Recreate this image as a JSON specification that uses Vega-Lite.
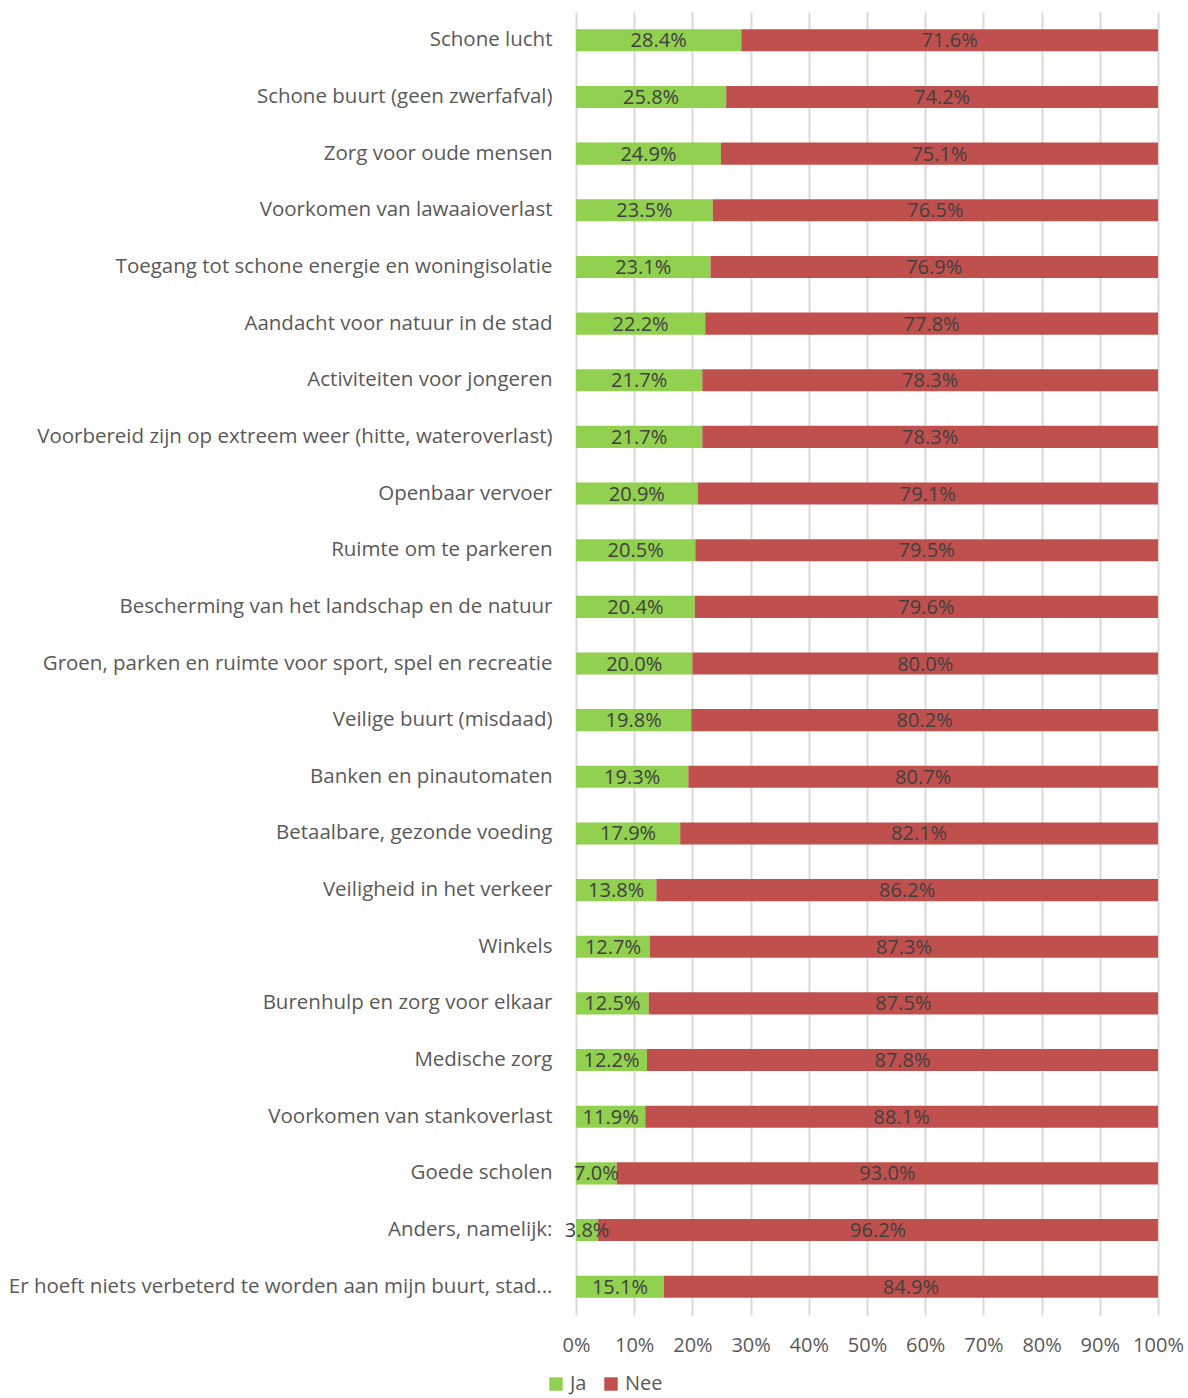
{
  "$schema": "https://vega.github.io/schema/vega-lite/v6.json",
  "width": 582,
  "height": 1303,
  "autosize": "none",
  "padding": {"left": 576, "top": 12, "right": 30, "bottom": 83},
  "background": "white",
  "config": {"view": {"stroke": null}, "font": "Open Sans"},
  "data": {
    "values": [
      {"item": "Schone lucht", "serie": "Ja", "waarde": 0.284},
      {"item": "Schone lucht", "serie": "Nee", "waarde": 0.716},
      {"item": "Schone buurt (geen zwerfafval)", "serie": "Ja", "waarde": 0.258},
      {"item": "Schone buurt (geen zwerfafval)", "serie": "Nee", "waarde": 0.742},
      {"item": "Zorg voor oude mensen", "serie": "Ja", "waarde": 0.249},
      {"item": "Zorg voor oude mensen", "serie": "Nee", "waarde": 0.751},
      {"item": "Voorkomen van lawaaioverlast", "serie": "Ja", "waarde": 0.235},
      {"item": "Voorkomen van lawaaioverlast", "serie": "Nee", "waarde": 0.765},
      {"item": "Toegang tot schone energie en woningisolatie", "serie": "Ja", "waarde": 0.231},
      {"item": "Toegang tot schone energie en woningisolatie", "serie": "Nee", "waarde": 0.769},
      {"item": "Aandacht voor natuur in de stad", "serie": "Ja", "waarde": 0.222},
      {"item": "Aandacht voor natuur in de stad", "serie": "Nee", "waarde": 0.778},
      {"item": "Activiteiten voor jongeren", "serie": "Ja", "waarde": 0.217},
      {"item": "Activiteiten voor jongeren", "serie": "Nee", "waarde": 0.783},
      {"item": "Voorbereid zijn op extreem weer (hitte, wateroverlast)", "serie": "Ja", "waarde": 0.217},
      {"item": "Voorbereid zijn op extreem weer (hitte, wateroverlast)", "serie": "Nee", "waarde": 0.783},
      {"item": "Openbaar vervoer", "serie": "Ja", "waarde": 0.209},
      {"item": "Openbaar vervoer", "serie": "Nee", "waarde": 0.791},
      {"item": "Ruimte om te parkeren", "serie": "Ja", "waarde": 0.205},
      {"item": "Ruimte om te parkeren", "serie": "Nee", "waarde": 0.795},
      {"item": "Bescherming van het landschap en de natuur", "serie": "Ja", "waarde": 0.204},
      {"item": "Bescherming van het landschap en de natuur", "serie": "Nee", "waarde": 0.796},
      {"item": "Groen, parken en ruimte voor sport, spel en recreatie", "serie": "Ja", "waarde": 0.200},
      {"item": "Groen, parken en ruimte voor sport, spel en recreatie", "serie": "Nee", "waarde": 0.800},
      {"item": "Veilige buurt (misdaad)", "serie": "Ja", "waarde": 0.198},
      {"item": "Veilige buurt (misdaad)", "serie": "Nee", "waarde": 0.802},
      {"item": "Banken en pinautomaten", "serie": "Ja", "waarde": 0.193},
      {"item": "Banken en pinautomaten", "serie": "Nee", "waarde": 0.807},
      {"item": "Betaalbare, gezonde voeding", "serie": "Ja", "waarde": 0.179},
      {"item": "Betaalbare, gezonde voeding", "serie": "Nee", "waarde": 0.821},
      {"item": "Veiligheid in het verkeer", "serie": "Ja", "waarde": 0.138},
      {"item": "Veiligheid in het verkeer", "serie": "Nee", "waarde": 0.862},
      {"item": "Winkels", "serie": "Ja", "waarde": 0.127},
      {"item": "Winkels", "serie": "Nee", "waarde": 0.873},
      {"item": "Burenhulp en zorg voor elkaar", "serie": "Ja", "waarde": 0.125},
      {"item": "Burenhulp en zorg voor elkaar", "serie": "Nee", "waarde": 0.875},
      {"item": "Medische zorg", "serie": "Ja", "waarde": 0.122},
      {"item": "Medische zorg", "serie": "Nee", "waarde": 0.878},
      {"item": "Voorkomen van stankoverlast", "serie": "Ja", "waarde": 0.119},
      {"item": "Voorkomen van stankoverlast", "serie": "Nee", "waarde": 0.881},
      {"item": "Goede scholen", "serie": "Ja", "waarde": 0.070},
      {"item": "Goede scholen", "serie": "Nee", "waarde": 0.930},
      {"item": "Anders, namelijk:", "serie": "Ja", "waarde": 0.038},
      {"item": "Anders, namelijk:", "serie": "Nee", "waarde": 0.962},
      {"item": "Er hoeft niets verbeterd te worden aan mijn buurt, stad...", "serie": "Ja", "waarde": 0.151},
      {"item": "Er hoeft niets verbeterd te worden aan mijn buurt, stad...", "serie": "Nee", "waarde": 0.849}
    ]
  },
  "transform": [
    {"stack": "waarde", "groupby": ["item"], "sort": [{"field": "serie", "order": "ascending"}], "as": ["x0", "x1"]},
    {"calculate": "(datum.x0 + datum.x1) / 2", "as": "xm"}
  ],
  "encoding": {
    "y": {
      "field": "item",
      "type": "nominal",
      "sort": null,
      "scale": {"paddingInner": 0.61, "paddingOuter": 0.305},
      "axis": {
        "title": null,
        "ticks": false,
        "domain": false,
        "labelFontSize": 20.5,
        "labelColor": "#595959",
        "labelPadding": 24,
        "labelLimit": 700
      }
    }
  },
  "layer": [
    {
      "mark": {"type": "bar"},
      "encoding": {
        "x": {
          "field": "x0",
          "type": "quantitative",
          "scale": {"domain": [0, 1], "nice": false},
          "axis": {
            "title": null,
            "values": [0, 0.1, 0.2, 0.3, 0.4, 0.5, 0.6, 0.7, 0.8, 0.9, 1],
            "format": ".0%",
            "grid": true,
            "gridColor": "#d9d9d9",
            "gridWidth": 2,
            "domain": false,
            "ticks": false,
            "labelOverlap": false,
            "labelFlush": false,
            "labelFontSize": 20,
            "labelColor": "#595959",
            "labelPadding": 20
          }
        },
        "x2": {"field": "x1"},
        "color": {
          "field": "serie",
          "type": "nominal",
          "scale": {"domain": ["Ja", "Nee"], "range": ["#92D050", "#C0504D"]},
          "legend": {
            "title": null,
            "orient": "none",
            "legendX": -30,
            "legendY": 1362,
            "direction": "horizontal",
            "symbolType": "square",
            "symbolSize": 180,
            "symbolStrokeWidth": 0,
            "labelFontSize": 20,
            "labelColor": "#595959",
            "labelOffset": 4,
            "columnPadding": 14
          }
        }
      }
    },
    {
      "mark": {"type": "text", "fontSize": 20, "color": "#404040", "dy": 1},
      "encoding": {
        "x": {"field": "xm", "type": "quantitative"},
        "text": {"field": "waarde", "type": "quantitative", "format": ".1%"}
      }
    }
  ]
}
